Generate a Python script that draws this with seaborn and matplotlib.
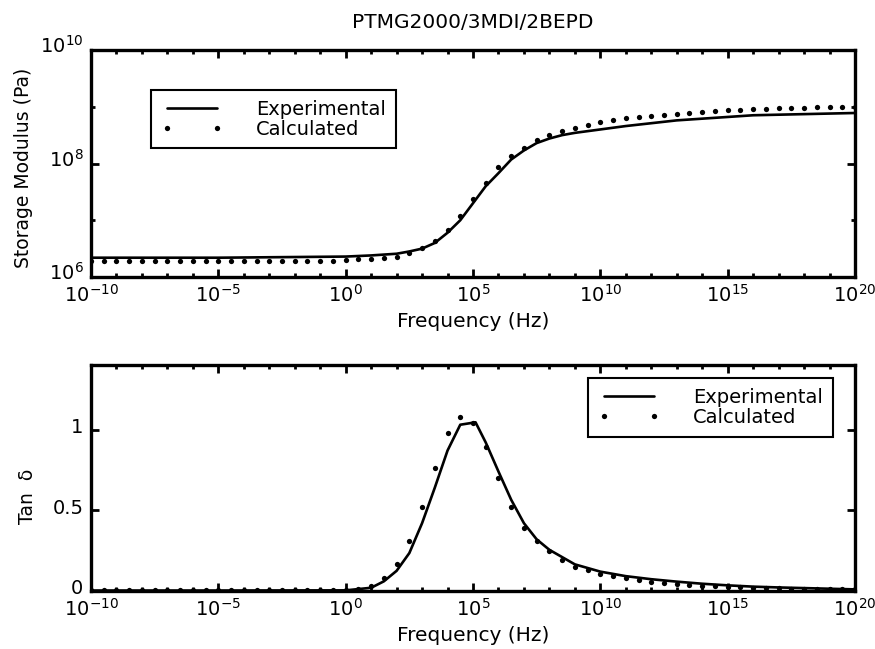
import numpy as np
import pandas as pd
import matplotlib
matplotlib.use("Agg")
import matplotlib.pyplot as plt
import matplotlib.transforms as mtransforms
import seaborn as sns
from matplotlib.ticker import FixedLocator, FuncFormatter, NullFormatter

# ---------------- data (log10 of frequency / modulus) -------------
title = "PTMG2000/3MDI/2BEPD"

exp_logf_E = [-10, -5, 0, 1, 2, 2.5, 3, 3.5, 4, 4.5, 5, 5.5, 6, 6.5, 7, 7.5, 8, 8.5, 9,
              10, 11, 12, 13, 14, 15, 16, 17, 18, 19, 20]
exp_logE = [6.34, 6.34, 6.36, 6.38, 6.41, 6.45, 6.50, 6.60, 6.78, 7.00, 7.30, 7.60, 7.83,
            8.07, 8.23, 8.36, 8.44, 8.50, 8.54, 8.60, 8.66, 8.71, 8.76, 8.79, 8.82, 8.85,
            8.86, 8.87, 8.88, 8.89]

calc_logf = [-10, -9.5, -9, -8.5, -8, -7.5, -7, -6.5, -6, -5.5, -5, -4.5, -4, -3.5, -3,
             -2.5, -2, -1.5, -1, -0.5, 0, 0.5, 1, 1.5, 2, 2.5, 3, 3.5, 4, 4.5, 5, 5.5,
             6, 6.5, 7, 7.5, 8, 8.5, 9, 9.5, 10, 10.5, 11, 11.5, 12, 12.5, 13, 13.5, 14,
             14.5, 15, 15.5, 16, 16.5, 17, 17.5, 18, 18.5, 19, 19.5, 20]
calc_logE = [6.28, 6.28, 6.28, 6.28, 6.28, 6.28, 6.28, 6.28, 6.28, 6.28, 6.28, 6.28, 6.28,
             6.28, 6.28, 6.28, 6.29, 6.29, 6.29, 6.29, 6.30, 6.31, 6.32, 6.33, 6.35, 6.42,
             6.51, 6.64, 6.83, 7.08, 7.37, 7.65, 7.94, 8.13, 8.28, 8.41, 8.51, 8.57, 8.63,
             8.68, 8.73, 8.77, 8.80, 8.82, 8.84, 8.85, 8.87, 8.89, 8.91, 8.93, 8.94, 8.95,
             8.96, 8.96, 8.98, 8.98, 8.98, 8.99, 9.00, 9.00, 9.00]

exp_logf_T = [-10, -5, 0, 1, 1.5, 2, 2.5, 3, 3.5, 4, 4.5, 5.1, 5.5, 6, 6.5, 7, 7.5, 8,
              8.5, 9, 10, 11, 12, 13, 14, 15, 16, 17, 18, 19, 20]
exp_tan = [0.003, 0.003, 0.004, 0.02, 0.06, 0.125, 0.235, 0.42, 0.64, 0.87, 1.03, 1.045,
           0.92, 0.74, 0.565, 0.42, 0.32, 0.255, 0.21, 0.165, 0.12, 0.092, 0.073, 0.058,
           0.045, 0.035, 0.027, 0.022, 0.018, 0.014, 0.010]

calc_tan = [0.005, 0.005, 0.005, 0.005, 0.005, 0.005, 0.005, 0.005, 0.005, 0.005, 0.005,
            0.005, 0.005, 0.005, 0.005, 0.005, 0.005, 0.005, 0.005, 0.005, 0.006, 0.01,
            0.03, 0.08, 0.17, 0.31, 0.52, 0.76, 0.98, 1.08, 1.04, 0.89, 0.70, 0.52, 0.39,
            0.31, 0.245, 0.19, 0.15, 0.127, 0.104, 0.09, 0.08, 0.069, 0.058, 0.052, 0.044,
            0.038, 0.033, 0.029, 0.025, 0.022, 0.020, 0.018, 0.016, 0.015, 0.013, 0.012,
            0.011, 0.010, 0.010]

x_major_exp = [-10, -5, 0, 5, 10, 15, 20]
x_minor_exp = list(range(-10, 21))
yE_major_exp = [6, 8, 10]
yE_minor_exp = [7, 9]
yT_major = [0, 0.5, 1]

# ---------------- style ----------------
sns.set_theme(style="white")
plt.rcParams["font.family"] = ["DejaVu Sans"]
plt.rcParams["mathtext.default"] = "regular"
for k in ("text.color", "axes.labelcolor", "xtick.color", "ytick.color",
          "xtick.labelcolor", "ytick.labelcolor"):
    plt.rcParams[k] = "black"

W, H = 875, 649
fig = plt.figure(figsize=(W / 100, H / 100), dpi=100)
L, R = 91, 855
ax1 = fig.add_axes([L / W, 1 - 277 / H, (R - L) / W, (277 - 50) / H])
ax2 = fig.add_axes([L / W, 1 - 591 / H, (R - L) / W, (591 - 365) / H])

df_expE = pd.DataFrame({"f": 10.0 ** np.array(exp_logf_E), "v": 10.0 ** np.array(exp_logE)})
df_calcE = pd.DataFrame({"f": 10.0 ** np.array(calc_logf), "v": 10.0 ** np.array(calc_logE)})
df_expT = pd.DataFrame({"f": 10.0 ** np.array(exp_logf_T), "v": exp_tan})
df_calcT = pd.DataFrame({"f": 10.0 ** np.array(calc_logf), "v": calc_tan})

pow_fmt = FuncFormatter(lambda v, p: r"$\mathregular{10^{%d}}$" % int(round(np.log10(v))))

for ax, de, dc in [(ax1, df_expE, df_calcE), (ax2, df_expT, df_calcT)]:
    ax.set_xscale("log")
    sns.lineplot(data=de, x="f", y="v", ax=ax, color="black", lw=1.9,
                 label="Experimental", zorder=3)
    sns.lineplot(data=dc, x="f", y="v", ax=ax, color="black", linestyle="",
                 marker="o", markersize=3.8, markeredgewidth=0, label="Calculated",
                 zorder=4)
    ax.set_xlim(1e-10, 1e20)
    ax.xaxis.set_major_locator(FixedLocator([10.0 ** e for e in x_major_exp]))
    ax.xaxis.set_minor_locator(FixedLocator([10.0 ** e for e in x_minor_exp]))
    ax.xaxis.set_major_formatter(pow_fmt)
    ax.xaxis.set_minor_formatter(NullFormatter())
    ax.tick_params(which="both", direction="in", top=True, right=True, bottom=True,
                   left=True, color="black", width=2.0, labelcolor="black")
    ax.tick_params(which="major", length=5.5, labelsize=14)
    ax.tick_params(which="minor", length=3.0)
    ax.tick_params(axis="x", which="major", pad=5)
    ax.tick_params(axis="y", which="major", pad=5.5)
    for s in ax.spines.values():
        s.set_visible(True)
        s.set_color("black")
        s.set_linewidth(2.4)
    ax.set_facecolor("white")
    ax.set_xlabel("Frequency (Hz)", fontsize=14.5, color="black")

ax1.set_yscale("log")
ax1.set_ylim(1e6, 1e10)
ax1.yaxis.set_major_locator(FixedLocator([10.0 ** e for e in yE_major_exp]))
ax1.yaxis.set_minor_locator(FixedLocator([10.0 ** e for e in yE_minor_exp]))
ax1.yaxis.set_major_formatter(pow_fmt)
ax1.yaxis.set_minor_formatter(NullFormatter())
ax1.set_ylabel("Storage Modulus (Pa)", fontsize=13.5, color="black")

ax2.set_ylim(0, 1.4)
ax2.yaxis.set_major_locator(FixedLocator(yT_major))
ax2.yaxis.set_minor_locator(FixedLocator([]))
ax2.yaxis.set_major_formatter(FuncFormatter(lambda v, p: ("%g" % v)))
ax2.set_ylabel("Tan  δ", fontsize=13.5, color="black")

ax1.xaxis.set_label_coords(0.5, -0.152)
ax2.xaxis.set_label_coords(0.5, -0.157)
ax1.yaxis.set_label_coords(-0.076, 0.482)
ax2.yaxis.set_label_coords(-0.071, 0.42)

# small upward shift of y tick labels, as in the reference
for ax, dy in [(ax1, 6), (ax2, 4)]:
    off = mtransforms.ScaledTranslation(0, dy / 100, fig.dpi_scale_trans)
    for t in ax.yaxis.get_major_ticks():
        for lab in (t.label1, t.label2):
            lab.set_transform(lab.get_transform() + off)

leg_kw = dict(fontsize=14, frameon=True, fancybox=False, framealpha=1, edgecolor="black",
              numpoints=2, handlelength=3.2, handletextpad=1.7, borderpad=0.5,
              labelspacing=0.05, borderaxespad=0)
for ax, loc, anchor in [(ax1, "upper left", (0.0785, 0.824)),
                        (ax2, "upper right", (0.971, 0.942))]:
    h, l = ax.get_legend_handles_labels()
    lg = ax.legend(h, l, loc=loc, bbox_to_anchor=anchor, **leg_kw)
    lg.get_frame().set_linewidth(1.5)
    for txt in lg.get_texts():
        txt.set_color("black")

fig.text(473 / W, 1 - 22 / H, title, ha="center", va="center", fontsize=14.5,
         color="black")

fig.savefig("out.png", dpi=100, facecolor="white")
